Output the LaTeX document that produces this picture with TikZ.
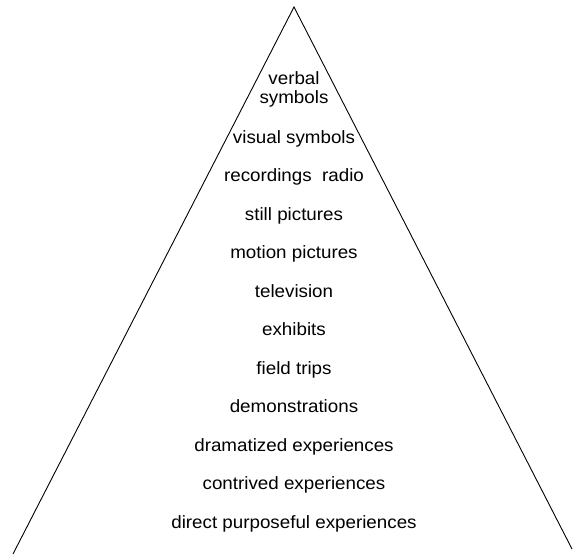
\documentclass[tikz,border=0pt]{standalone}
\usepackage{fontspec}
\setmainfont{Liberation Sans}[FakeStretch=1.055]
\begin{document}
\begin{tikzpicture}[x=1pt,y=-1pt,
  level/.style={anchor=base,inner sep=0pt,font=\fontsize{17.8}{19.4}\selectfont,align=center},
  edge/.style={line width=0.9pt,line join=miter}]
\useasboundingbox (0,0) rectangle (573,555);
% outline of the cone
\coordinate (apex) at (294,7);
\coordinate (bl) at (13,554);
\coordinate (br) at (572,549);
\draw[edge] (bl) -- (apex) -- (br);
% levels, from the most abstract at the top to the most concrete at the base
\node[level] (l13) at (294,103.7) {verbal\\symbols};
\node[level] (l12) at (294,143) {visual symbols};
\node[level] (l11) at (294,181.5) {recordings\ \ radio};
\node[level] (l10) at (294,220) {still pictures};
\node[level] (l9) at (294,258.5) {motion pictures};
\node[level] (l8) at (294,297) {television};
\node[level] (l7) at (294,335.5) {exhibits};
\node[level] (l6) at (294,374) {field trips};
\node[level] (l5) at (294,412.5) {demonstrations};
\node[level] (l4) at (294,451) {dramatized experiences};
\node[level] (l3) at (294,489.5) {contrived experiences};
\node[level] (l2) at (294,528) {direct purposeful experiences};
\end{tikzpicture}
\end{document}
